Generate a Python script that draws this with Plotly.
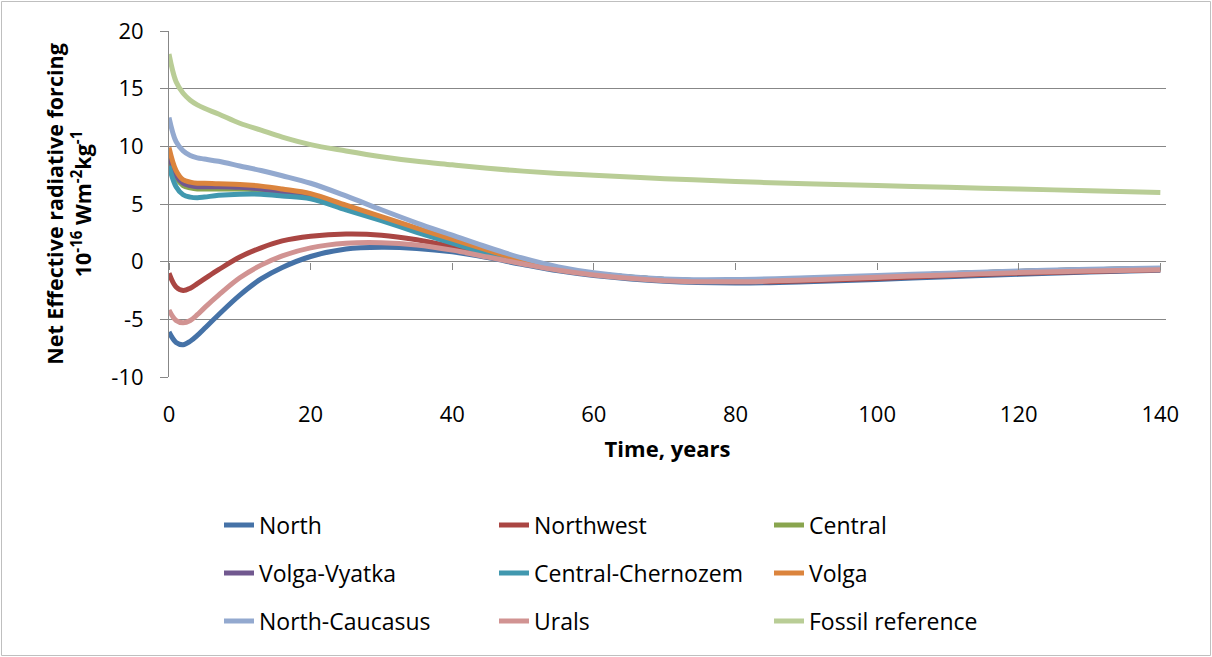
import plotly.graph_objects as go

# Time axis (years) and net effective radiative forcing per region, 1e-16 W m-2 kg-1
years = [0, 1, 2, 3, 4, 5, 7, 10, 13, 16, 20, 25, 30, 35, 40, 45, 50, 55, 60,
         70, 80, 90, 100, 110, 120, 130, 140]

north = [-6.1, -7.0, -7.2, -6.9, -6.4, -5.8, -4.6, -2.9, -1.5, -0.5, 0.45, 1.1, 1.25,
         1.15, 0.85, 0.35, -0.25, -0.8, -1.2, -1.7, -1.85, -1.75, -1.55, -1.3, -1.1,
         -0.9, -0.75]
northwest = [-1.0, -2.2, -2.5, -2.3, -1.9, -1.5, -0.7, 0.4, 1.2, 1.8, 2.2, 2.4, 2.3,
             1.9, 1.3, 0.6, -0.1, -0.7, -1.1, -1.6, -1.75, -1.65, -1.45, -1.2, -1.0,
             -0.85, -0.7]
central = [9.0, 7.3, 6.6, 6.4, 6.3, 6.3, 6.3, 6.3, 6.2, 6.0, 5.7, 4.75, 3.75, 2.75,
           1.8, 0.85, 0.0, -0.65, -1.05, -1.55, -1.65, -1.5, -1.3, -1.05, -0.85, -0.7,
           -0.6]
volga_vyatka = [9.3, 7.5, 6.8, 6.6, 6.5, 6.5, 6.5, 6.45, 6.3, 6.05, 5.8, 4.8, 3.8,
                2.8, 1.85, 0.9, 0.05, -0.6, -1.05, -1.55, -1.65, -1.5, -1.3, -1.05,
                -0.85, -0.7, -0.6]
central_chernozem = [8.3, 6.5, 5.8, 5.6, 5.55, 5.6, 5.75, 5.85, 5.85, 5.7, 5.45, 4.5,
                     3.55, 2.55, 1.6, 0.7, -0.05, -0.65, -1.05, -1.55, -1.65, -1.5,
                     -1.3, -1.05, -0.85, -0.7, -0.6]
volga = [9.9, 7.9, 7.1, 6.9, 6.8, 6.8, 6.75, 6.7, 6.55, 6.3, 5.9, 4.9, 3.9, 2.9, 1.95,
         1.0, 0.1, -0.6, -1.05, -1.55, -1.65, -1.5, -1.3, -1.05, -0.85, -0.7, -0.6]
north_caucasus = [12.5, 10.4, 9.6, 9.2, 9.0, 8.9, 8.7, 8.3, 7.9, 7.45, 6.8, 5.7, 4.5,
                  3.35, 2.3, 1.25, 0.3, -0.45, -0.95, -1.5, -1.55, -1.4, -1.2, -1.0,
                  -0.8, -0.65, -0.55]
urals = [-4.2, -5.1, -5.3, -5.1, -4.6, -4.0, -2.9, -1.4, -0.3, 0.5, 1.2, 1.6, 1.65,
         1.45, 1.0, 0.4, -0.2, -0.75, -1.15, -1.65, -1.75, -1.6, -1.35, -1.15, -0.95,
         -0.8, -0.7]
fossil_reference = [18.0, 15.6, 14.6, 14.0, 13.6, 13.3, 12.8, 12.0, 11.4, 10.8, 10.15,
                    9.6, 9.1, 8.7, 8.4, 8.1, 7.85, 7.65, 7.5, 7.2, 6.95, 6.75, 6.6,
                    6.45, 6.3, 6.15, 6.0]

series_names = ["North", "Northwest", "Central", "Volga-Vyatka", "Central-Chernozem",
                "Volga", "North-Caucasus", "Urals", "Fossil reference"]
series_values = [north, northwest, central, volga_vyatka, central_chernozem, volga,
                 north_caucasus, urals, fossil_reference]
series_colors = ["#4572A7", "#AA4643", "#89A54E", "#71588F", "#4198AF", "#DB843D",
                 "#93A9CF", "#D19392", "#B9CD96"]

x_ticks = [0, 20, 40, 60, 80, 100, 120, 140]
y_ticks = [-10, -5, 0, 5, 10, 15, 20]

FONT = "Open Sans"
GRID = "#878787"

# Figure geometry (pixels)
W, H = 1212, 657
L, R, T, B = 169, 46, 31, 280
PW, PH = W - L - R, H - T - B


def px_x(p):
    return (p - L) / PW


def px_y(p):
    return (H - B - p) / PH


fig = go.Figure()

legend_ids = ["legend", "legend2", "legend3"]
for i, (name, vals, col) in enumerate(zip(series_names, series_values, series_colors)):
    fig.add_trace(go.Scatter(
        x=years, y=vals, name=name, mode="lines",
        line=dict(color=col, width=5, shape="spline", smoothing=1),
        legend=legend_ids[i // 3],
    ))

# carrier for the tick marks drawn where the category axis crosses y = 0
fig.add_trace(go.Scatter(x=[], y=[], xaxis="x2", showlegend=False, hoverinfo="skip"))

legend_common = dict(
    orientation="h", xanchor="left", yanchor="middle",
    x=px_x(219), font=dict(family=FONT, size=23, color="#000000"),
    entrywidth=230, entrywidthmode="pixels", bgcolor="rgba(0,0,0,0)",
    tracegroupgap=0, itemclick=False, itemdoubleclick=False,
)

fig.update_layout(
    width=W, height=H,
    margin=dict(l=L, r=R, t=T, b=B, autoexpand=False),
    paper_bgcolor="white", plot_bgcolor="white",
    font=dict(family=FONT, size=22, color="#000000"),
    showlegend=True,
    legend=dict(legend_common, y=px_y(525)),
    legend2=dict(legend_common, y=px_y(573)),
    legend3=dict(legend_common, y=px_y(621)),
    xaxis=dict(
        range=[0, 140.8], tickvals=x_ticks, ticktext=[str(v) for v in x_ticks],
        showgrid=False, zeroline=False, showline=False, ticks="",
        ticklabelstandoff=22, tickfont=dict(family=FONT, size=22),
        title=dict(text="Time, years", font=dict(family=FONT, size=22, weight="bold"),
                   standoff=14),
        automargin=False,
    ),
    xaxis2=dict(
        range=[0, 140.8], tickvals=x_ticks, overlaying="x", anchor="free",
        position=1 / 3, side="bottom", showticklabels=False, showgrid=False,
        zeroline=False, showline=False, ticks="outside", ticklen=7, tickwidth=1,
        tickcolor=GRID,
    ),
    yaxis=dict(
        range=[-10, 20], tickvals=y_ticks, ticktext=[str(v) for v in y_ticks],
        showgrid=True, gridcolor=GRID, gridwidth=1, zeroline=False,
        showline=True, linecolor=GRID, linewidth=1,
        ticks="outside", ticklen=8, tickcolor=GRID,
        ticklabelstandoff=12, tickfont=dict(family=FONT, size=22),
        title=dict(
            text="Net Effective radiative forcing<br>10<sup>-16</sup> Wm<sup>-2</sup>kg<sup>-1</sup>",
            font=dict(family=FONT, size=21.5, weight="bold"), standoff=13),
        automargin=False,
    ),
    shapes=[dict(type="rect", xref="paper", yref="paper",
                 x0=px_x(1.5), x1=px_x(1210.5), y0=px_y(655.5), y1=px_y(1.5),
                 line=dict(color="#BFBFBF", width=1), layer="below")],
)

fig.write_html("out.html")
